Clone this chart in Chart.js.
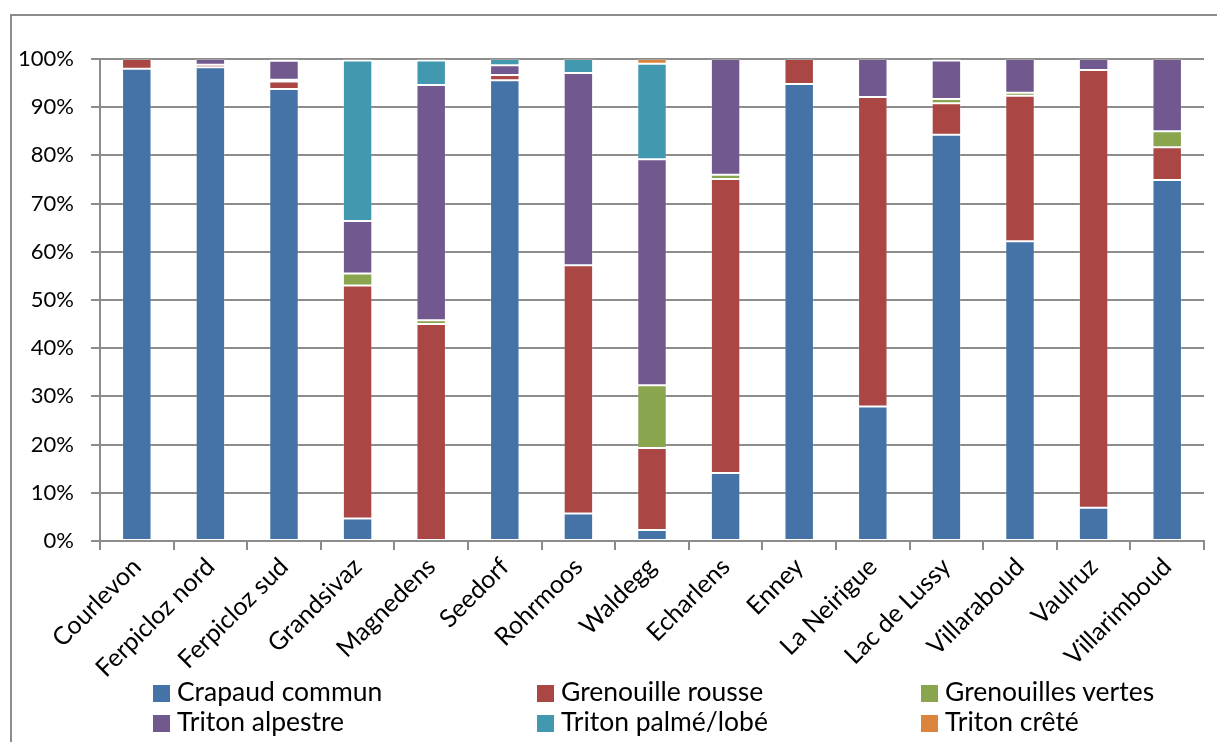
<!DOCTYPE html>
<html lang="fr">
<head>
<meta charset="utf-8">
<title>Espèces par site</title>
<script src="https://cdn.jsdelivr.net/npm/chart.js@4.4.0/dist/chart.umd.min.js"></script>
<style>
    body { margin: 0; background: #fff; }
    #cadre { position: relative; width: 1217px; height: 742px; overflow: hidden; }
    #bord {
        position: absolute; left: 10px; top: 14px; width: 1400px; height: 900px;
        border-left: 2px solid #8c8c8c; border-top: 2px solid #8c8c8c;
    }
    #graphique { position: absolute; left: 0; top: 0; }
    #legende {
        position: absolute; left: 153px; top: 676px;
        display: grid; grid-template-columns: 384px 384px 300px;
        font: 26.5px Lato, sans-serif; color: #000; line-height: 30px;
    }
    #legende span.case {
        display: inline-block; width: 17px; height: 17px; margin-right: 7px;
        vertical-align: -1px;
    }
</style>
</head>
<body>
<div id="cadre">
    <div id="bord"></div>
    <canvas id="graphique" width="1217" height="742"></canvas>
    <div id="legende"></div>
</div>
<script>
const sites = ['Courlevon', 'Ferpicloz nord', 'Ferpicloz sud', 'Grandsivaz', 'Magnedens', 'Seedorf',
    'Rohrmoos', 'Waldegg', 'Echarlens', 'Enney', 'La Neirigue', 'Lac de Lussy', 'Villaraboud',
    'Vaulruz', 'Villarimboud'];

// pourcentages par site
const crapaudCommun     = [98.0, 98.3, 93.8, 4.65, 0,    95.6, 5.7,  2.3,  14.1, 94.8, 27.9, 84.3, 62.2, 6.9,  74.9];
const grenouilleRousse  = [2.0,  0.5,  1.55, 48.35, 45.0, 1.1, 51.5, 17.0, 61.0, 5.2,  64.2, 6.5,  30.2, 90.8, 6.8];
const grenouillesVertes = [0,    0,    0.35, 2.5,  0.8,  0,    0,    13.0, 0.9,  0,    0,    0.9,  0.6,  0,    3.3];
const tritonAlpestre    = [0,    1.2,  3.95, 10.9, 48.8, 2.0,  39.9, 46.9, 24.0, 0,    7.9,  8.0,  7.0,  2.3,  15.0];
const tritonPalme       = [0,    0,    0.35, 33.3, 5.1,  1.3,  2.9,  19.8, 0,    0,    0,    0.3,  0,    0,    0];
const tritonCrete       = [0,    0,    0,    0.3,  0.3,  0,    0,    1.0,  0,    0,    0,    0,    0,    0,    0];

const especes = ['Crapaud commun', 'Grenouille rousse', 'Grenouilles vertes',
    'Triton alpestre', 'Triton palmé/lobé', 'Triton crêté'];
const valeurs = [crapaudCommun, grenouilleRousse, grenouillesVertes, tritonAlpestre, tritonPalme, tritonCrete];
const couleurs = ['#4572a7', '#aa4643', '#89a54e', '#71588f', '#4198af', '#db843d'];

const gris = '#8c8c8c';

const datasets = especes.map((nom, i) => ({
    label: nom,
    data: valeurs[i],
    backgroundColor: couleurs[i],
    borderColor: 'rgba(255,255,255,0.2)',
    borderWidth: 1,
    borderSkipped: false,
    categoryPercentage: 1.0,
    barPercentage: 0.4
}));

new Chart(document.getElementById('graphique'), {
    type: 'bar',
    data: { labels: sites, datasets: datasets },
    options: {
        responsive: false,
        animation: false,
        layout: { padding: { top: 59, right: 13, bottom: 0, left: 0 } },
        plugins: {
            legend: { display: false },
            tooltip: { enabled: false }
        },
        scales: {
            x: {
                stacked: true,
                grid: { display: true, drawOnChartArea: false, drawTicks: true, tickLength: 9, color: gris, lineWidth: 2, offset: true },
                border: { display: true, color: gris, width: 2 },
                ticks: {
                    autoSkip: false, maxRotation: 45, minRotation: 45, padding: 2,
                    color: '#000', font: { family: 'Lato', size: 25 }
                },
                afterFit: function (scale) { scale.height = 201; }
            },
            y: {
                stacked: true,
                min: 0,
                max: 100,
                grid: { color: gris, lineWidth: 2, tickLength: 9 },
                border: { display: true, color: gris, width: 2 },
                ticks: {
                    stepSize: 10, padding: 17, color: '#000',
                    font: { family: 'Lato', size: 22 },
                    callback: v => v + '%'
                },
                afterFit: function (scale) { scale.width = 100; }
            }
        }
    }
});

// légende sur trois colonnes
const legende = document.getElementById('legende');
especes.forEach((nom, i) => {
    const item = document.createElement('div');
    item.innerHTML = '<span class="case" style="background:' + couleurs[i] + '"></span>' + nom;
    legende.appendChild(item);
});
</script>
</body>
</html>
